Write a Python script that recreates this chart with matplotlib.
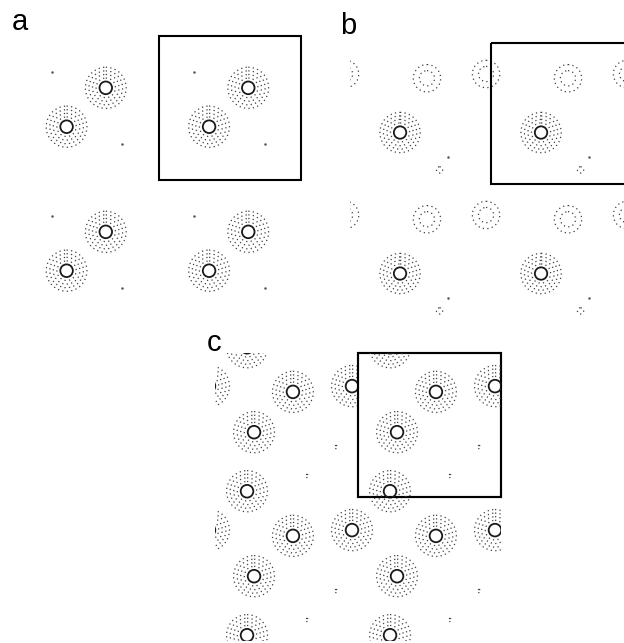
import matplotlib.pyplot as plt
from matplotlib.patches import Circle, Rectangle

W, H = 624, 643

# Site positions in fractional cell coordinates (x to the right, y downwards)
a_atoms_x = [0.63, 0.355]
a_atoms_y = [0.36, 0.63]
a_minor_x = [0.25, 0.745]
a_minor_y = [0.25, 0.75]

b_atoms_x = [0.355]
b_atoms_y = [0.635]
b_rings_x = [0.546, 0.965]
b_rings_y = [0.25, 0.22]
b_small_x = [0.635]
b_small_y = [0.90]
b_minor_x = [0.695]
b_minor_y = [0.81]

c_atoms_x = [0.545, 0.273, 0.224, 0.958]
c_atoms_y = [0.27, 0.55, 0.96, 0.23]
c_small_x = [0.846, 0.643]
c_small_y = [0.653, 0.854]

# Contour radii, in cell lengths
core_radius = 0.044
atom_levels = [0.068, 0.093, 0.118, 0.143]
ring_levels = [0.054, 0.097]
small_levels = [0.022]
c_small_levels = [0.011]

DOT = dict(fill=False, ls=(0, (1, 2.6)), lw=0.9, ec="#404040")
CORE = dict(fill=False, ls="-", lw=1.3, ec="#1a1a1a")


def panel_axes(fig, x0, y0, x1, y1):
    # axes placed by its pixel box, spanning 2 x 2 unit cells
    ax = fig.add_axes([x0 / W, 1 - y1 / H, (x1 - x0) / W, (y1 - y0) / H])
    ax.set_xlim(0, 2)
    ax.set_ylim(2, 0)
    ax.axis("off")
    return ax


def add_circle(ax, x, y, r, style, z, clip=None):
    c = Circle((x, y), r, zorder=z, **style)
    ax.add_patch(c)
    if clip is not None:
        c.set_clip_path(clip)


def draw_sites(ax, xs, ys, levels, core=False, shifts_x=range(-1, 3),
               shifts_y=range(-1, 3), clip=None, z=1):
    for fx, fy in zip(xs, ys):
        for i in shifts_x:
            for j in shifts_y:
                for r in levels:
                    add_circle(ax, i + fx, j + fy, r, DOT, z, clip)
                if core:
                    add_circle(ax, i + fx, j + fy, core_radius, CORE, z, clip)


def draw_minor(ax, xs, ys):
    for fx, fy in zip(xs, ys):
        for i in range(2):
            for j in range(2):
                ax.plot(i + fx, j + fy, ".", ms=1.6, color="#555555")


def cell_box(ax, fill=False):
    box = Rectangle((1, 0), 1, 1, fill=fill, fc="white", ec="black", lw=1.5,
                    zorder=2, clip_on=False)
    ax.add_patch(box)
    return box


fig = plt.figure(figsize=(W / 100, H / 100), dpi=100)

# (a)
ax_a = panel_axes(fig, 16, 36, 301, 324)
draw_sites(ax_a, a_atoms_x, a_atoms_y, atom_levels, core=True)
draw_minor(ax_a, a_minor_x, a_minor_y)
cell_box(ax_a)

# (b)
ax_b = panel_axes(fig, 350, 43, 632, 325)
draw_sites(ax_b, b_atoms_x, b_atoms_y, atom_levels, core=True)
draw_sites(ax_b, b_rings_x, b_rings_y, ring_levels)
draw_sites(ax_b, b_small_x, b_small_y, small_levels)
draw_minor(ax_b, b_minor_x, b_minor_y)
cell_box(ax_b)

# (c) the outlined cell is redrawn on its own, on a white ground
ax_c = panel_axes(fig, 215, 353, 501, 641)
draw_sites(ax_c, c_atoms_x, c_atoms_y, atom_levels, core=True)
draw_sites(ax_c, c_small_x, c_small_y, c_small_levels)
box_c = cell_box(ax_c, fill=True)
draw_sites(ax_c, c_atoms_x, c_atoms_y, atom_levels, core=True,
           shifts_x=[1], shifts_y=[-1, 0, 1], clip=box_c, z=3)
draw_sites(ax_c, c_small_x, c_small_y, c_small_levels,
           shifts_x=[1], shifts_y=[0], clip=box_c, z=3)
cell_box(ax_c)

label_style = dict(fontsize=21, family="Liberation Sans", va="baseline")
fig.text(12 / W, 1 - 30 / H, "a", **label_style)
fig.text(340 / W, 1 - 34 / H, "b", **label_style)
fig.text(207 / W, 1 - 351 / H, "c", **label_style)

fig.savefig("out.png", dpi=100)
